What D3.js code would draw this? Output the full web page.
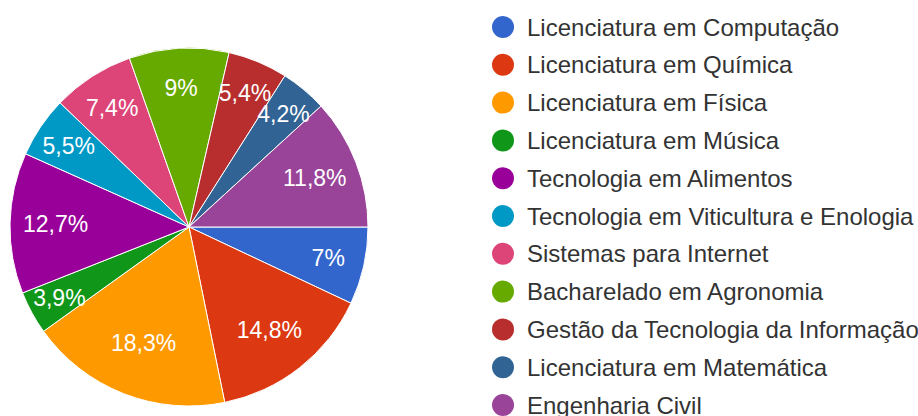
<!DOCTYPE html>
<html>
<head>
<meta charset="utf-8">
<script src="https://cdn.jsdelivr.net/npm/d3@7"></script>
<style>
  body { margin: 0; background: #ffffff; }
  svg { display: block; font-family: "Liberation Sans", Arial, sans-serif; }
</style>
</head>
<body>
<div id="chart"></div>
<script>
// Categories, values (%) and colours, in drawing order
const categories = [
    "Licenciatura em Computação",
    "Licenciatura em Química",
    "Licenciatura em Física",
    "Licenciatura em Música",
    "Tecnologia em Alimentos",
    "Tecnologia em Viticultura e Enologia",
    "Sistemas para Internet",
    "Bacharelado em Agronomia",
    "Gestão da Tecnologia da Informação",
    "Licenciatura em Matemática",
    "Engenharia Civil"
];
const values = [7, 14.8, 18.3, 3.9, 12.7, 5.5, 7.4, 9, 5.4, 4.2, 11.8];
const labels = ["7%", "14,8%", "18,3%", "3,9%", "12,7%", "5,5%", "7,4%", "9%", "5,4%", "4,2%", "11,8%"];
const colors = ["#3366cc", "#dc3912", "#ff9900", "#109618", "#990099", "#0099c6",
                "#dd4477", "#66aa00", "#b82e2e", "#316395", "#994499"];

const width = 918, height = 416;
const cx = 189, cy = 227, radius = 179;

const svg = d3.select("#chart")
    .append("svg")
    .attr("width", width)
    .attr("height", height);

const data = categories.map((c, i) => ({ name: c, value: values[i], label: labels[i], color: colors[i] }));

// Pie starts at 3 o'clock and runs clockwise
const pie = d3.pie()
    .sort(null)
    .value(d => d.value)
    .startAngle(Math.PI / 2)
    .endAngle(Math.PI / 2 + 2 * Math.PI);

const arc = d3.arc().innerRadius(0).outerRadius(radius);

// narrow slices get their label pushed a little further out
function labelPos(d) {
    const k = 0.86 - 0.009 * d.data.value;
    return d3.arc().innerRadius(radius * k).outerRadius(radius * k).centroid(d);
}

const g = svg.append("g").attr("transform", `translate(${cx},${cy})`);

g.selectAll("path")
    .data(pie(data))
    .enter()
    .append("path")
    .attr("d", arc)
    .attr("fill", d => d.data.color)
    .attr("stroke", "#ffffff")
    .attr("stroke-width", 1);

g.selectAll("text")
    .data(pie(data))
    .enter()
    .append("text")
    .attr("transform", d => `translate(${labelPos(d)})`)
    .attr("text-anchor", "middle")
    .attr("dy", "0.36em")
    .attr("fill", "#ffffff")
    .style("font-size", "23px")
    .text(d => d.data.label);

// Legend
const legendX = 503, legendY = 27, rowH = 37.8;
const legend = svg.append("g");

data.forEach((d, i) => {
    const row = legend.append("g")
        .attr("transform", `translate(${legendX}, ${legendY + i * rowH})`);
    row.append("circle")
        .attr("r", 11)
        .attr("fill", d.color);
    row.append("text")
        .attr("x", 24)
        .attr("dy", "0.36em")
        .attr("fill", "#333333")
        .style("font-size", "24px")
        .text(d.name);
});
</script>
</body>
</html>
